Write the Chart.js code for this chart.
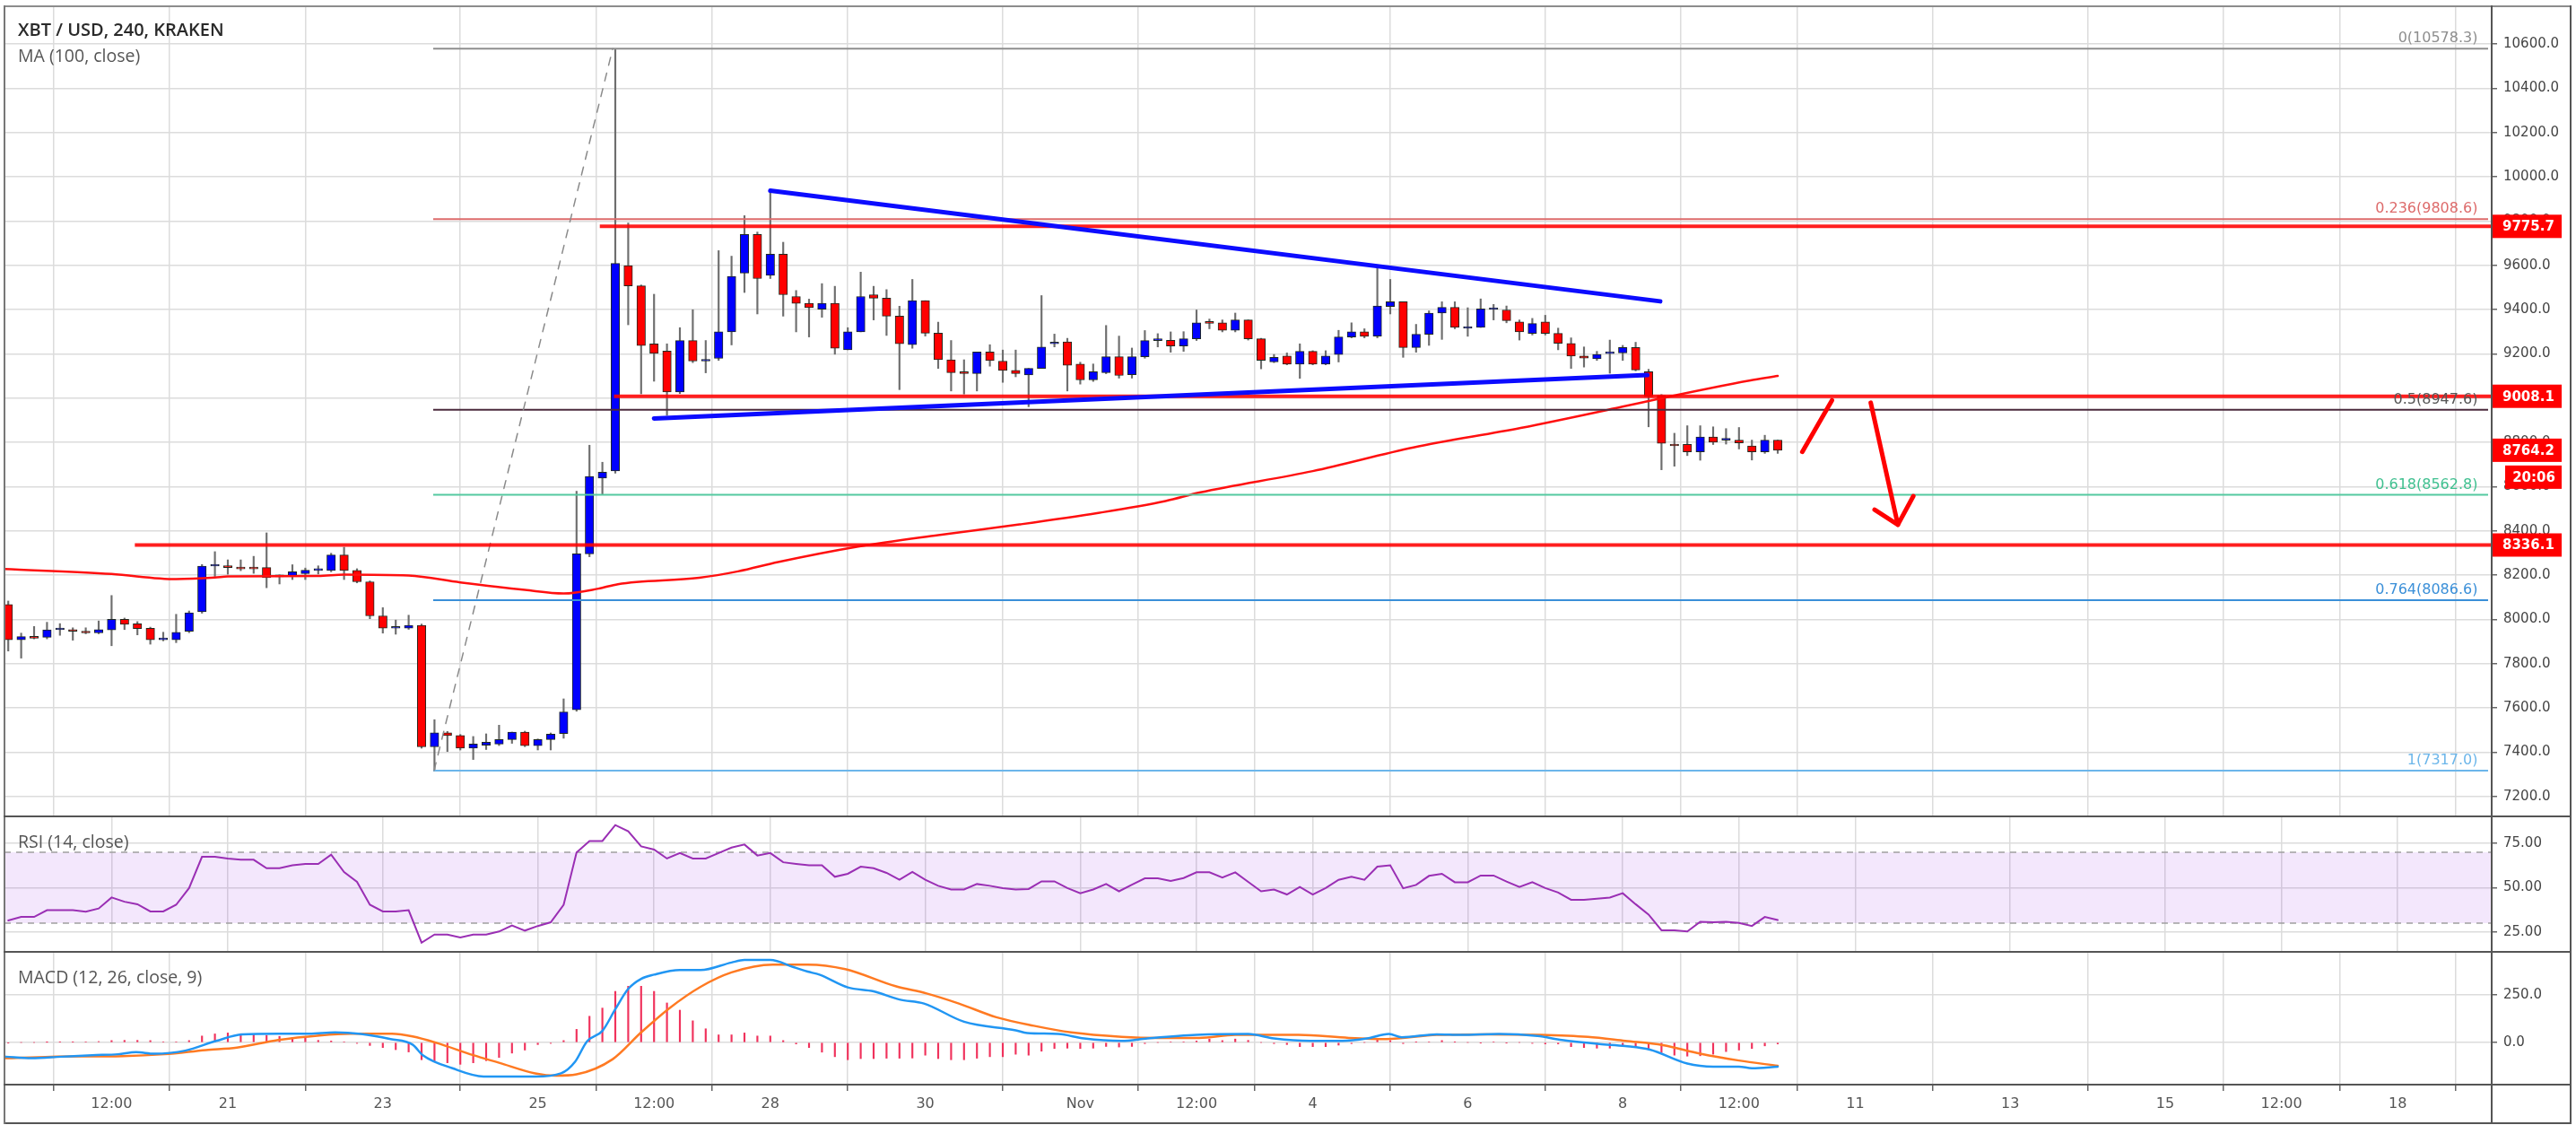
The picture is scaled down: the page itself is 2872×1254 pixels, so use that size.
<!DOCTYPE html>
<html>
<head>
<meta charset="utf-8">
<script src="https://cdn.jsdelivr.net/npm/chart.js@4/dist/chart.umd.min.js"></script>
<style>
body { margin: 0; background: #fff; width: 2872px; height: 1254px; overflow: hidden; position: relative; }
canvas { position: absolute; }
.ln { position: absolute; background: #555; z-index: 2; }
.lbl { position: absolute; z-index: 3; font-family: 'Open Sans', sans-serif; font-size: 19.5px; color: #555; white-space: nowrap; }
</style>
</head>
<body>
<canvas id="main" width="2861" height="902" style="left:5px;top:8px"></canvas>
<canvas id="rsi" width="2861" height="151" style="left:5px;top:910px"></canvas>
<canvas id="macd" width="2861" height="191" style="left:5px;top:1061px"></canvas>

<div class="ln" style="left:4px;top:6px;width:2863px;height:2px;background:#8c8c8c"></div>
<div class="ln" style="left:4px;top:1251px;width:2863px;height:2px"></div>
<div class="ln" style="left:4px;top:6px;width:2px;height:1247px;background:#777"></div>
<div class="ln" style="left:2865px;top:6px;width:2px;height:1247px"></div>
<div class="ln" style="left:2777px;top:6px;width:2px;height:1247px"></div>
<div class="ln" style="left:4px;top:909px;width:2863px;height:2px"></div>
<div class="ln" style="left:4px;top:1060px;width:2863px;height:2px"></div>
<div class="ln" style="left:4px;top:1208px;width:2863px;height:2px"></div>

<div class="lbl" style="left:20px;top:19px;font-size:20px;font-weight:600;color:#2a2a2a">XBT / USD, 240, KRAKEN</div>
<div class="lbl" style="left:20px;top:48px">MA (100, close)</div>
<div class="lbl" style="left:20px;top:924px">RSI (14, close)</div>
<div class="lbl" style="left:20px;top:1075px">MACD (12, 26, close, 9)</div>

<script>
// candle index 0 = Oct 21 00:00, one step = 4h
const firstIdx = -17;

const opens = [
  8067, 7908, 7920, 7919, 7953, 7954, 7947, 7939, 7952, 8000, 7980, 7960, 7908, 7908, 7946, 8034, 8241,
  8241, 8234, 8234, 8234, 8193, 8194, 8207, 8221, 8221, 8291, 8221, 8170, 8016, 7960, 7960, 7973, 7424, 7488, 7475, 7418, 7432, 7437, 7457, 7491, 7430, 7457, 7484, 7592, 8296, 8638,
  8671, 9598, 9507, 9245, 9212, 9028, 9260, 9167, 9179, 9299, 9565, 9739, 9554, 9650, 9459, 9428, 9401, 9428, 9218, 9299, 9467, 9451, 9370, 9241, 9440, 9293, 9173, 9115, 9111, 9208,
  9167, 9125, 9105, 9134, 9245, 9254, 9154, 9082, 9115, 9187, 9106, 9187, 9260, 9261, 9235, 9268, 9340, 9340, 9306, 9353, 9268, 9163, 9190, 9153, 9211, 9153, 9197, 9276, 9299, 9280,
  9414, 9435, 9228, 9288, 9384, 9410, 9315, 9319, 9400, 9398, 9344, 9292, 9344, 9292, 9247, 9190, 9177, 9201, 9204, 9228, 9119, 9012, 8791, 8791, 8757, 8824, 8810, 8810, 8784, 8757, 8810
];
const highs = [
  8083, 7938, 7968, 7987, 7981, 7962, 7962, 7993, 8108, 8006, 7990, 7965, 7942, 8023, 8038, 8248, 8306,
  8269, 8269, 8285, 8391, 8201, 8247, 8232, 8242, 8299, 8326, 8229, 8174, 8053, 7997, 8019, 7979, 7547, 7494, 7480, 7471, 7483, 7522, 7491, 7495, 7460, 7487, 7641, 8579, 8787, 8710,
  10578.3, 9791, 9511, 9469, 9245, 9318, 9399, 9260, 9666, 9641, 9824, 9750, 9937, 9704, 9486, 9447, 9517, 9505, 9318, 9569, 9505, 9490, 9415, 9536, 9440, 9343, 9260, 9173, 9208, 9241,
  9217, 9217, 9134, 9463, 9289, 9270, 9162, 9154, 9328, 9280, 9226, 9305, 9291, 9299, 9300, 9398, 9357, 9353, 9384, 9353, 9270, 9197, 9204, 9245, 9214, 9214, 9306, 9340, 9313, 9590,
  9536, 9435, 9333, 9394, 9435, 9435, 9408, 9448, 9423, 9416, 9353, 9360, 9374, 9316, 9272, 9231, 9211, 9262, 9238, 9252, 9130, 9016, 8841, 8875, 8875, 8870, 8862, 8867, 8810, 8832, 8810
];
const lows = [
  7857, 7825, 7912, 7912, 7928, 7906, 7935, 7935, 7881, 7954, 7930, 7888, 7903, 7895, 7940, 8028, 8194,
  8204, 8220, 8208, 8143, 8160, 8180, 8180, 8205, 8215, 8180, 8165, 8003, 7938, 7933, 7955, 7418, 7316, 7403, 7410, 7367, 7412, 7430, 7440, 7425, 7410, 7410, 7463, 7585, 8283, 8566,
  8661, 9331, 9019, 9076, 8922, 9020, 9160, 9114, 9170, 9240, 9477, 9380, 9540, 9370, 9299, 9276, 9365, 9198, 9218, 9299, 9353, 9283, 9038, 9225, 9280, 9134, 9032, 9018, 9032, 9144,
  9071, 9096, 8961, 9134, 9231, 9032, 9063, 9075, 9110, 9090, 9090, 9180, 9231, 9207, 9211, 9260, 9313, 9299, 9299, 9262, 9132, 9160, 9150, 9089, 9150, 9150, 9163, 9272, 9272, 9272,
  9380, 9184, 9207, 9238, 9265, 9313, 9279, 9319, 9353, 9340, 9262, 9285, 9285, 9218, 9134, 9140, 9170, 9112, 9170, 9123, 8870, 8676, 8692, 8740, 8719, 8790, 8792, 8770, 8720, 8750, 8750
];
const closes = [
  7908, 7922, 7915, 7953, 7954, 7946, 7939, 7954, 8000, 7978, 7958, 7908, 7910, 7942, 8030, 8241, 8243,
  8234, 8228, 8228, 8188, 8196, 8215, 8222, 8222, 8291, 8221, 8170, 8016, 7960, 7962, 7973, 7424, 7488, 7475, 7418, 7437, 7445, 7457, 7491, 7430, 7457, 7482, 7582, 8296, 8646, 8665,
  9608, 9507, 9237, 9202, 9028, 9260, 9167, 9170, 9299, 9550, 9739, 9540, 9650, 9467, 9428, 9409, 9428, 9225, 9299, 9459, 9451, 9370, 9245, 9440, 9293, 9173, 9115, 9111, 9208, 9169,
  9125, 9111, 9134, 9231, 9247, 9148, 9082, 9119, 9187, 9102, 9187, 9260, 9262, 9235, 9268, 9340, 9338, 9306, 9353, 9268, 9170, 9184, 9153, 9211, 9153, 9190, 9276, 9299, 9279, 9416,
  9435, 9228, 9288, 9384, 9410, 9319, 9317, 9403, 9402, 9350, 9299, 9337, 9292, 9247, 9190, 9180, 9197, 9203, 9228, 9127, 9007, 8795, 8784, 8757, 8824, 8801, 8810, 8797, 8757, 8810, 8764
];

// MA (100, close), read at a few points
const maIdx = [-17.3, -9, -4, -1, 0, 7, 9, 14, 18, 23, 26, 28.7, 30.2, 36.5, 39.5, 42.6, 48.8, 55, 61.3, 67.4, 72.6, 75.3, 84, 91.8, 100.1, 107.9, 110.8, 117.8, 120];
const maValues = [8228, 8205, 8182, 8189, 8194, 8196, 8202, 8198, 8167, 8133, 8117, 8139, 8159, 8188, 8217, 8259, 8329, 8381, 8429, 8481, 8535, 8574, 8670, 8777, 8865, 8960, 8997, 9079, 9100];

const rsiValues = [
  31.5, 33.5, 33.5, 37.3, 37.3, 37.3, 36.5, 38.3, 44.5, 42.1, 40.7, 36.6, 36.6, 40.4, 49.8, 67.5, 67.5,
  66.5, 65.8, 65.8, 61, 61, 62.7, 63.4, 63.4, 68.7, 58.9, 53.3, 40.4, 36.6, 36.6, 37.3, 19, 23.6, 23.6, 21.9, 23.6, 23.6, 25.3, 28.7, 25.8, 28.4, 30.5, 40.4, 69.9, 76.4, 76.4,
  85.4, 81.9, 73.4, 71.6, 66.5, 69.6, 66.5, 66.5, 69.6, 72.7, 74.4, 68.2, 69.6, 64.4, 63.5, 62.7, 62.7, 56.2, 57.9, 61.9, 61, 58.4, 54.5, 58.9, 54.5, 51.1, 49, 49, 52.1, 51.1,
  49.8, 49, 49.3, 53.6, 53.6, 49.8, 46.9, 49, 52.1, 48, 51.7, 55.3, 55.3, 53.8, 55.5, 58.7, 58.7, 55.8, 58.7, 53.3, 48, 49, 46.2, 50.4, 46.2, 49.8, 54.5, 56.2, 54.5, 61.9,
  62.7, 49.7, 51.6, 56.7, 57.9, 53.1, 53.1, 56.9, 56.9, 53.5, 50.4, 53.1, 49.8, 47.3, 43.2, 43.2, 43.8, 44.5, 46.9, 40.7, 34.9, 26, 26, 25.3, 30.8, 30.5, 30.8, 30.1, 28.4, 33.5, 31.8
];
const rsiBands = [30, 70];

const histValues = [
  -2, 0, 0, 1, 2, 2, 3, 5, 10, 11, 11, 10, 3, 3, 10, 34, 45,
  50, 46, 42, 37, 32, 26, 24, 11, 8, 3, -5, -16, -27, -38, -50, -91, -99, -107, -115, -107, -96, -79, -56, -40, -11, -5, 10, 69, 138, 181,
  269, 296, 296, 269, 208, 170, 114, 72, 40, 40, 50, 34, 34, 10, -8, -27, -51, -75, -91, -85, -85, -83, -83, -82, -67, -85, -91, -91, -83, -75,
  -75, -62, -67, -46, -32, -30, -32, -30, -21, -24, -21, -6, 0, 3, 3, 8, 18, 10, 18, 11, 0, -6, -11, -22, -22, -22, -14, -6, 0, 16,
  10, -6, 2, 3, 10, 2, 0, -2, 3, -2, 0, -5, -8, -8, -22, -27, -30, -30, -19, -27, -35, -53, -67, -72, -70, -62, -48, -40, -32, -18, -8
];
const macdIdx = [-17.2, -15.2, -12.9, -10.5, -8.5, -7.1, -5.7, -3.3, -0.9, 1.1, 3.9, 6.3, 8.3, 10.3, 12.6, 14.3, 15.1, 17.4, 19.8, 23.8,
  25.8, 26.9, 27.8, 29, 30, 31, 32, 33, 35, 36.6, 39, 40, 42, 43.8, 44.9, 45.8, 48, 50, 52, 53.9,
  57, 61, 61.9, 64.3, 66.3, 69.2, 71.2, 75, 79, 81, 83.8, 86.3, 88.2, 89.9, 90.9, 93.6, 95.5, 98.4, 101.4, 103.3,
  106.2, 108.2, 110.1, 113, 115, 117, 118, 120];
const macdValues = [-75, -83, -75, -67, -62, -51, -59, -43, 8, 42, 46, 46, 53, 45, 18, -11, -67, -136, -179, -179,
  -162, -100, 5, 61, 175, 282, 335, 357, 381, 381, 421, 434, 434, 397, 373, 357, 290, 269, 226, 205,
  109, 64, 50, 45, 21, 8, 21, 40, 45, 21, 8, 8, 21, 45, 27, 43, 40, 45, 34, 13,
  -8, -19, -38, -111, -127, -127, -136, -127];
const signalIdx = [-17.2, -13.7, -8.1, -4.9, -1.7, 0.7, 3.9, 7.1, 9.5, 12.7, 14.3, 16.2, 19, 21, 23.8, 25.4, 27, 29.8, 32, 34.2,
  36.6, 39, 42.2, 44.9, 47.8, 51.7, 54.1, 56.6, 59.5, 62.4, 65.3, 69.2, 72.1, 75.2, 78, 82.9, 86.8, 89.7, 93.6, 97.5,
  101.4, 105.3, 108.2, 111.1, 114, 117, 120];
const signalValues = [-83, -75, -72, -62, -40, -27, 13, 37, 46, 46, 32, -3, -67, -107, -163, -175, -168, -88, 53, 181,
  293, 369, 410, 410, 386, 296, 258, 205, 133, 88, 53, 30, 24, 24, 40, 40, 24, 18, 40, 43,
  40, 29, 8, -14, -59, -95, -123];

// axes
const xTickIdx = [-9, 0, 12, 24, 33, 42, 54, 66, 75, 84, 96, 108, 117, 126, 138, 150, 159, 168];
const xTickLabels = ['12:00', '21', '23', '25', '12:00', '28', '30', 'Nov', '12:00', '4', '6', '8', '12:00', '11', '13', '15', '12:00', '18'];
const priceTicks = [7200, 7400, 7600, 7800, 8000, 8200, 8400, 8600, 8800, 9000, 9200, 9400, 9600, 9800, 10000, 10200, 10400, 10600];
const rsiTicks = [25, 50, 75];
const macdTicks = [0, 250];

// drawings
const fibLevels = ['0', '0.236', '0.5', '0.618', '0.764', '1'];
const fibPrices = [10578.3, 9808.6, 8947.6, 8562.8, 8086.6, 7317.0];
const fibLineColors = ['#8e8e8e', '#dd6b6b', '#4b2a3c', '#55c9a0', '#3a8fd8', '#6cb6ea'];
const fibTextColors = ['#8e8e8e', '#dd6b6b', '#555555', '#40c090', '#3a8fd8', '#6cb6ea'];
const fibStart = 15.9, fibEnd = 175, fibLabelIdx = 174.2;
const fibDiagonal = [[15.97, 7317.0], [29.8, 10578.3]];
const hLinePrices = [9775.7, 9008.1, 8336.1];
const hLineStart = [28.8, 29.9, -7.2];
const trendUpper = [[42, 9937], [110.9, 9437]];
const trendLower = [[33, 8908], [109.9, 9104]];
const arrowUp = [[121.9, 8757], [124.2, 8990]];
const arrowShaft = [[127.2, 8979], [129.3, 8428]];
const arrowHead = [[127.5, 8496], [129.3, 8428], [130.5, 8557]];
const axisMarks = [9775.7, 9008.1, 8764.2, 8336.1];
const lastPrice = 8764.2, countdown = '20:06';

const xMin = -17.292, xMax = 175.278;
const gridColor = '#dcdcdc';

Chart.defaults.font.family = '"DejaVu Sans", sans-serif';
Chart.defaults.font.size = 15;
Chart.defaults.color = '#444';

const idx = opens.map((_, k) => firstIdx + k);
const pts = arr => arr.map(p => ({ x: p[0], y: p[1] }));

function xScale(showLabels) {
  return {
    type: 'linear', min: xMin, max: xMax, offset: false,
    grid: { color: gridColor, lineWidth: 1.5, drawTicks: showLabels, tickLength: 7, tickColor: '#666', tickWidth: 1.5 },
    border: { display: false },
    ticks: {
      display: showLabels, autoSkip: false, maxRotation: 0, padding: 5, color: '#555',
      font: { size: 16 },
      callback: (v, k) => xTickLabels[k]
    },
    afterBuildTicks: s => { s.ticks = xTickIdx.map(v => ({ value: v })); },
    afterFit: s => { s.height = showLabels ? 43 : 0; s.paddingLeft = 0; s.paddingRight = 0; }
  };
}

function yScale(min, max, ticks, digits) {
  return {
    type: 'linear', position: 'right', min: min, max: max,
    grid: { color: gridColor, lineWidth: 1.5, tickLength: 6, tickColor: '#666', tickWidth: 1.5 },
    border: { display: false },
    ticks: { padding: 7, color: '#444', callback: v => v.toFixed(digits) },
    afterBuildTicks: s => { s.ticks = ticks.map(v => ({ value: v })); },
    afterFit: s => { s.width = 88; s.paddingTop = 0; s.paddingBottom = 0; }
  };
}

const baseOptions = {
  responsive: false, animation: false, devicePixelRatio: 1, events: [],
  layout: { padding: 0 },
  plugins: { legend: { display: false }, tooltip: { enabled: false } }
};

// main pane overlay: fib texts and red price marks on the axis
const mainOverlay = {
  id: 'mainOverlay',
  afterDraw(chart) {
    const { ctx, scales: { x, y } } = chart;
    ctx.save();
    ctx.font = '16px "DejaVu Sans"';
    ctx.textAlign = 'right';
    ctx.textBaseline = 'bottom';
    fibLevels.forEach((lv, k) => {
      ctx.fillStyle = fibTextColors[k];
      ctx.fillText(lv + '(' + fibPrices[k].toFixed(1) + ')', x.getPixelForValue(fibLabelIdx), y.getPixelForValue(fibPrices[k]) - 3);
    });
    ctx.font = 'bold 15px "DejaVu Sans"';
    ctx.textBaseline = 'middle';
    axisMarks.forEach(v => {
      const py = y.getPixelForValue(v);
      ctx.fillStyle = '#ff0000';
      ctx.fillRect(y.left - 1, py - 13, 79, 26);
      ctx.fillStyle = '#fff';
      ctx.textAlign = 'left';
      ctx.fillText(v.toFixed(1), y.left + 12, py + 1);
      if (v === lastPrice) {
        ctx.fillStyle = '#ff0000';
        ctx.fillRect(y.left + 15, py + 17, 63, 26);
        ctx.fillStyle = '#fff';
        ctx.textAlign = 'center';
        ctx.fillText(countdown, y.left + 47, py + 31);
      }
    });
    ctx.restore();
  }
};

const lineDs = (data, color, width, order, extra) => Object.assign({
  type: 'line', data: data, borderColor: color, borderWidth: width, pointRadius: 0,
  fill: false, order: order, borderCapStyle: 'round'
}, extra || {});

const mainDatasets = [
  {
    type: 'bar', order: 6, grouped: false, barThickness: 1.5,
    data: idx.map((i, k) => ({ x: i, y: [lows[k], highs[k]] })),
    backgroundColor: '#6e6e6e'
  },
  {
    type: 'bar', order: 5, grouped: false, barThickness: 9.5, minBarLength: 2,
    data: idx.map((i, k) => ({ x: i, y: [opens[k], closes[k]] })),
    backgroundColor: idx.map((_, k) => closes[k] >= opens[k] ? '#0000ff' : '#ff0000'),
    borderColor: '#1f2a1f', borderWidth: 1, borderSkipped: false
  },
  lineDs(maIdx.map((v, k) => ({ x: v, y: maValues[k] })), '#ff1010', 2.5, 4, { cubicInterpolationMode: 'monotone' }),
  lineDs(pts(fibDiagonal), '#8a8a8a', 1.5, 3, { borderDash: [9, 9] })
];
fibPrices.forEach((p, k) => {
  mainDatasets.push(lineDs([{ x: fibStart, y: p }, { x: fibEnd, y: p }], fibLineColors[k], 2, 3, { borderCapStyle: 'butt' }));
});
hLinePrices.forEach((p, k) => {
  mainDatasets.push(lineDs([{ x: hLineStart[k], y: p }, { x: xMax + 1, y: p }], 'rgba(255,0,0,0.88)', 4, 2, { borderCapStyle: 'butt' }));
});
mainDatasets.push(lineDs(pts(trendUpper), '#0c0cff', 5, 1));
mainDatasets.push(lineDs(pts(trendLower), '#0c0cff', 5, 1));
mainDatasets.push(lineDs(pts(arrowUp), '#ff0000', 5, 0));
mainDatasets.push(lineDs(pts(arrowShaft), '#ff0000', 5, 0));
mainDatasets.push(lineDs(pts(arrowHead), '#ff0000', 5, 0, { borderJoinStyle: 'round' }));

new Chart(document.getElementById('main'), {
  type: 'line',
  data: { datasets: mainDatasets },
  options: Object.assign({}, baseOptions, {
    scales: { x: xScale(false), y: yScale(7110, 10766, priceTicks, 1) }
  }),
  plugins: [mainOverlay]
});

// RSI pane
const rsiBand = {
  id: 'rsiBand',
  beforeDatasetsDraw(chart) {
    const { ctx, chartArea: a, scales: { y } } = chart;
    const top = y.getPixelForValue(rsiBands[1]);
    const bot = y.getPixelForValue(rsiBands[0]);
    ctx.save();
    ctx.fillStyle = 'rgba(150,40,230,0.11)';
    ctx.fillRect(a.left, top, a.right - a.left, bot - top);
    ctx.strokeStyle = '#a0a0a0';
    ctx.lineWidth = 1.5;
    ctx.setLineDash([7, 6]);
    [top, bot].forEach(p => { ctx.beginPath(); ctx.moveTo(a.left, p); ctx.lineTo(a.right, p); ctx.stroke(); });
    ctx.restore();
  }
};

new Chart(document.getElementById('rsi'), {
  type: 'line',
  data: { datasets: [lineDs(idx.map((i, k) => ({ x: i, y: rsiValues[k] })), '#9a2fb4', 2, 0, { tension: 0 })] },
  options: Object.assign({}, baseOptions, {
    scales: { x: xScale(false), y: yScale(13.8, 90.3, rsiTicks, 2) }
  }),
  plugins: [rsiBand]
});

// MACD pane
new Chart(document.getElementById('macd'), {
  type: 'line',
  data: {
    datasets: [
      { type: 'bar', order: 2, grouped: false, barThickness: 1.5,
        data: idx.map((i, k) => ({ x: i, y: histValues[k] })), backgroundColor: '#f0325c' },
      lineDs(signalIdx.map((v, k) => ({ x: v, y: signalValues[k] })), '#ff7a22', 2.5, 1, { cubicInterpolationMode: 'monotone' }),
      lineDs(macdIdx.map((v, k) => ({ x: v, y: macdValues[k] })), '#2196f3', 2.5, 0, { cubicInterpolationMode: 'monotone' })
    ]
  },
  options: Object.assign({}, baseOptions, {
    scales: { x: xScale(true), y: yScale(-222, 477, macdTicks, 1) }
  })
});
</script>
</body>
</html>
